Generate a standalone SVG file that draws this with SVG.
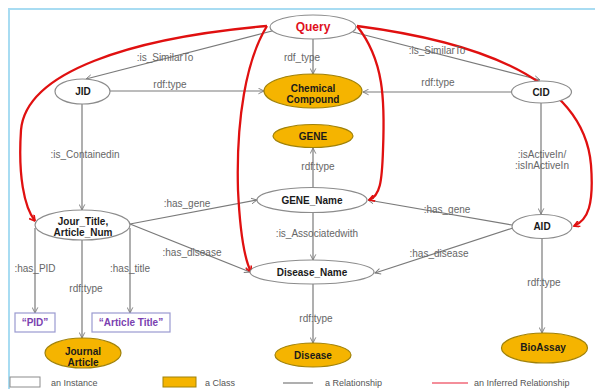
<svg xmlns="http://www.w3.org/2000/svg" width="595" height="389" viewBox="0 0 595 389">
<defs>
<style>
.inst{fill:#fff;stroke:#8c8c8c;stroke-width:1.2}
.cls{fill:#f5b400;stroke:#a0820a;stroke-width:1.2}
.nt{font-family:"Liberation Sans",Arial,sans-serif;font-weight:bold;font-size:10px;fill:#1a1a1a;text-anchor:middle}
.lit{fill:#fff;stroke:#9a9ad0;stroke-width:1.2}
.lt{font-family:"Liberation Sans",Arial,sans-serif;font-weight:bold;font-size:10px;fill:#7a3fb0;text-anchor:middle}
.e{fill:none;stroke:#7a7a7a;stroke-width:1.2;marker-end:url(#ga)}
.r{fill:none;stroke:#e01010;stroke-width:2.3;marker-end:url(#ra)}
.el{font-family:"Liberation Sans",Arial,sans-serif;font-size:10px;fill:#666;text-anchor:middle}
.lg{font-family:"Liberation Sans",Arial,sans-serif;font-size:9px;fill:#555}
</style>
<marker id="ga" viewBox="0 0 10 10" refX="9" refY="5" markerWidth="7" markerHeight="7" markerUnits="userSpaceOnUse" orient="auto"><path d="M1,1 L9,5 L1,9" fill="none" stroke="#7a7a7a" stroke-width="1.3"/></marker>
<marker id="ra" viewBox="0 0 10 10" refX="9" refY="5" markerWidth="7" markerHeight="7" markerUnits="userSpaceOnUse" orient="auto"><path d="M1,0.5 L9,5 L1,9.5" fill="none" stroke="#e01010" stroke-width="2.4"/></marker>
</defs>
<rect width="595" height="389" fill="#fff"/>
<path d="M9,389 L9,9 L595,9" fill="none" stroke="#a8dcf2" stroke-width="2"/>

<g id="connectors">
<path class="e" d="M272,31 L86,79"/>
<path class="e" d="M313,39 L313,74"/>
<path class="e" d="M353,32 L540,80"/>
<path class="e" d="M110,91 L264,91"/>
<path class="e" d="M511,92 L363,92"/>
<path class="e" d="M82,104 L82,210"/>
<path class="e" d="M541,103 L541,214"/>
<path class="e" d="M313,188 L313,148"/>
<path class="e" d="M313,213 L313,260"/>
<path class="e" d="M130,224 L257,200"/>
<path class="e" d="M130,224 L250,272"/>
<path class="e" d="M512,225 L368,200"/>
<path class="e" d="M513,228 L375,273"/>
<path class="e" d="M542,239 L542,333"/>
<path class="e" d="M313,284 L313,343"/>
<path class="e" d="M35,228 L35,313"/>
<path class="e" d="M82,240 L82,338"/>
<path class="e" d="M130,228 L130,313"/>
<path class="r" d="M267,26 C130,38 26,72 21,130 C18,175 24,207 35,221"/>
<path class="r" d="M267,26 C246,60 236,120 238,190 C240,232 244,258 251,272"/>
<path class="r" d="M357,26 C384,60 385,100 383,150 C382,182 380,196 369,200"/>
<path class="r" d="M357,26 C480,42 584,80 591,165 C594,205 588,220 574,226"/>
<text class="el" x="165" y="61">:is_SimilarTo</text>
<text class="el" x="302" y="61">rdf_type</text>
<text class="el" x="437" y="54">:is_SimilarTo</text>
<text class="el" x="170" y="88">rdf:type</text>
<text class="el" x="438" y="86">rdf:type</text>
<text class="el" x="85" y="158">:is_Containedin</text>
<text class="el" x="542" y="158">:isActiveIn/</text>
<text class="el" x="542" y="169">:isInActiveIn</text>
<text class="el" x="318" y="170">rdf:type</text>
<text class="el" x="317" y="237">:is_Associatedwith</text>
<text class="el" x="187" y="207">:has_gene</text>
<text class="el" x="192" y="256">:has_disease</text>
<text class="el" x="447" y="213">:has_gene</text>
<text class="el" x="439" y="257">:has_disease</text>
<text class="el" x="544" y="286">rdf:type</text>
<text class="el" x="316" y="322">rdf:type</text>
<text class="el" x="35" y="272">:has_PID</text>
<text class="el" x="86" y="292">rdf:type</text>
<text class="el" x="130" y="272">:has_title</text>
</g>

<g id="query"><ellipse class="inst" cx="313" cy="27" rx="43" ry="12"/><text class="nt" x="313" y="31" style="font-size:12px;fill:#e01020">Query</text></g>
<g id="chemical"><ellipse class="cls" cx="313" cy="91" rx="49" ry="17"/><text class="nt" x="313" y="92">Chemical</text><text class="nt" x="313" y="103">Compound</text></g>
<g id="gene"><ellipse class="cls" cx="313" cy="136" rx="40" ry="11.5"/><text class="nt" x="313" y="140">GENE</text></g>
<g id="gene_name"><ellipse class="inst" cx="312" cy="200" rx="55" ry="12.5"/><text class="nt" x="312" y="204">GENE_Name</text></g>
<g id="disease_name"><ellipse class="inst" cx="312" cy="272" rx="62" ry="12"/><text class="nt" x="312" y="276">Disease_Name</text></g>
<g id="disease"><ellipse class="cls" cx="313" cy="355" rx="38" ry="12"/><text class="nt" x="313" y="359">Disease</text></g>
<g id="jid"><ellipse class="inst" cx="82.5" cy="91.5" rx="27.5" ry="12.5"/><text class="nt" x="83" y="95">JID</text></g>
<g id="cid"><ellipse class="inst" cx="541.5" cy="92" rx="30" ry="11"/><text class="nt" x="541" y="96">CID</text></g>
<g id="aid"><ellipse class="inst" cx="542" cy="226.5" rx="30" ry="12"/><text class="nt" x="542" y="230">AID</text></g>
<g id="bioassay"><ellipse class="cls" cx="544.5" cy="348" rx="43" ry="15"/><text class="nt" x="543" y="351">BioAssay</text></g>
<g id="jour_title"><ellipse class="inst" cx="82.5" cy="225" rx="47.5" ry="15"/><text class="nt" x="83" y="225">Jour_Title,</text><text class="nt" x="83" y="236">Article_Num</text></g>
<g id="pid"><rect class="lit" x="15" y="313" width="40" height="19"/><text class="lt" x="35" y="326">“PID”</text></g>
<g id="article_title"><rect class="lit" x="92" y="313" width="78" height="19"/><text class="lt" x="131" y="326">“Article Title”</text></g>
<g id="journal_article"><ellipse class="cls" cx="83" cy="353" rx="38" ry="15"/><text class="nt" x="83" y="355">Journal</text><text class="nt" x="83" y="366">Article</text></g>

<g id="legend">
<rect x="10" y="377" width="30" height="10" fill="#fff" stroke="#8c8c8c"/>
<text class="lg" x="51" y="386">an Instance</text>
<rect x="163" y="377" width="33" height="10" fill="#f5b400" stroke="#a0820a"/>
<text class="lg" x="205" y="386">a Class</text>
<line x1="283" y1="383" x2="313" y2="383" stroke="#7a7a7a" stroke-width="1.2"/>
<text class="lg" x="325" y="386">a Relationship</text>
<line x1="432" y1="383" x2="468" y2="383" stroke="#f06878" stroke-width="1.5"/>
<text class="lg" x="474" y="386">an Inferred Relationship</text>
</g>
</svg>
